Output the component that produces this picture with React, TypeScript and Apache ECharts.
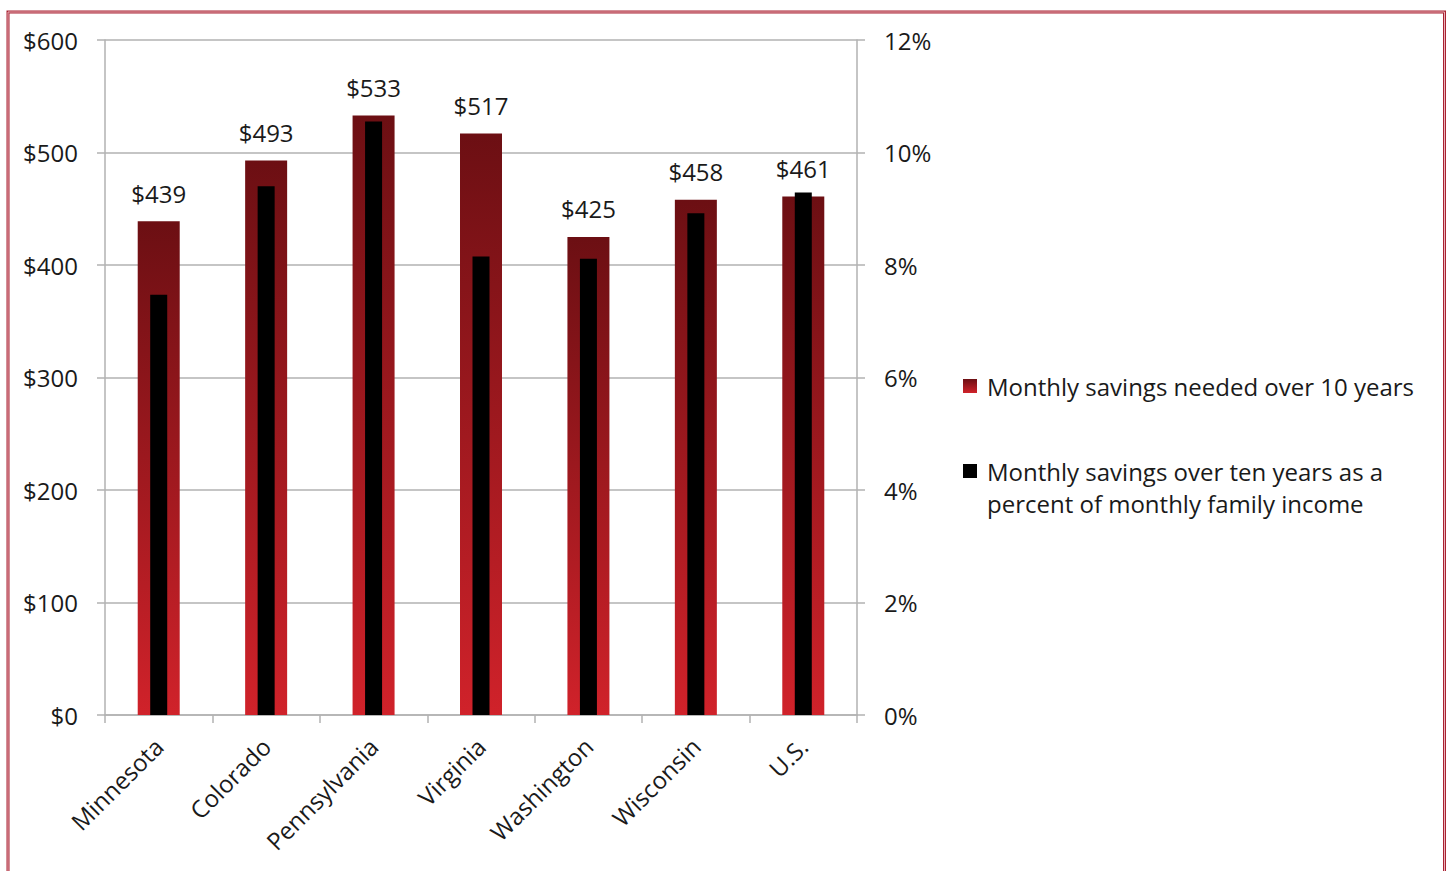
import React, { useEffect, useRef } from "react";
import * as echarts from "echarts";

const categories = ["Minnesota", "Colorado", "Pennsylvania", "Virginia", "Washington", "Wisconsin", "U.S."];
const savingsNeeded = [439, 493, 533, 517, 425, 458, 461];
const savingsPctIncome = [7.47, 9.4, 10.55, 8.15, 8.11, 8.92, 9.29];
const seriesNames = [
  "Monthly savings needed over 10 years",
  "Monthly savings over ten years as a percent of monthly family income",
];
const legendLines = [
  ["Monthly savings needed over 10 years"],
  ["Monthly savings over ten years as a", "percent of monthly family income"],
];

const FONT = "Open Sans";
const FS = 24;
const TEXT = "#1a1a1a";
const GRID = "#b2b2b2";

export default function App() {
  const ref = useRef<HTMLDivElement>(null);
  useEffect(() => {
    if (!ref.current) return;
    const chart = echarts.init(ref.current, null, { renderer: "svg" });
    const mkRed = () =>
      new echarts.graphic.LinearGradient(0, 0, 0, 1, [
        { offset: 0, color: "#6c0f13" },
        { offset: 1, color: "#d0222a" },
      ]);
    const legendColors = [mkRed(), "#000000"];
    const legendTops = [386, 471];
    const legendGraphics: any[] = [];
    legendLines.forEach((lines, i) => {
      legendGraphics.push({
        type: "rect",
        shape: { x: 963, y: legendTops[i] - 7, width: 14, height: 14 },
        style: { fill: legendColors[i] },
        silent: true,
      });
      lines.forEach((line, j) => {
        legendGraphics.push({
          type: "text",
          x: 987,
          y: legendTops[i] + j * 32,
          style: {
            text: line,
            fontFamily: FONT,
            fontSize: FS,
            fill: TEXT,
            verticalAlign: "middle",
            align: "left",
          },
          silent: true,
        });
      });
    });

    chart.setOption({
      animation: false,
      backgroundColor: "#ffffff",
      textStyle: { fontFamily: FONT },
      grid: { left: 105, right: 591, top: 40, bottom: 156, containLabel: false },
      legend: { show: false, data: seriesNames },
      xAxis: [
        {
          type: "category",
          data: categories,
          axisLine: { show: true, lineStyle: { color: GRID, width: 1.5 } },
          axisTick: { show: true, length: 8, lineStyle: { color: GRID, width: 1.5 } },
          axisLabel: {
            rotate: 45,
            interval: 0,
            margin: 27,
            fontFamily: FONT,
            fontSize: FS,
            color: TEXT,
          },
        },
        {
          type: "category",
          data: categories,
          show: false,
        },
      ],
      yAxis: [
        {
          type: "value",
          min: 0,
          max: 600,
          interval: 100,
          axisLine: { show: true, lineStyle: { color: GRID, width: 1.5 } },
          axisTick: { show: true, length: 8, lineStyle: { color: GRID, width: 1.5 } },
          splitLine: { show: true, lineStyle: { color: GRID, width: 1.5 } },
          axisLabel: {
            margin: 27,
            fontFamily: FONT,
            fontSize: FS,
            color: TEXT,
            formatter: (v: number) => "$" + v,
          },
        },
        {
          type: "value",
          min: 0,
          max: 12,
          interval: 2,
          position: "right",
          axisLine: { show: true, lineStyle: { color: GRID, width: 1.5 } },
          axisTick: { show: true, length: 8, lineStyle: { color: GRID, width: 1.5 } },
          splitLine: { show: false },
          axisLabel: {
            margin: 27,
            fontFamily: FONT,
            fontSize: FS,
            color: TEXT,
            formatter: (v: number) => v + "%",
          },
        },
      ],
      series: [
        {
          name: seriesNames[0],
          type: "bar",
          xAxisIndex: 0,
          yAxisIndex: 0,
          data: savingsNeeded,
          barWidth: 42,
          itemStyle: { color: mkRed() },
          label: {
            show: true,
            position: "top",
            distance: 16,
            fontFamily: FONT,
            fontSize: FS,
            color: TEXT,
            formatter: (p: any) => "$" + p.value,
          },
          z: 2,
        },
        {
          name: seriesNames[1],
          type: "bar",
          xAxisIndex: 1,
          yAxisIndex: 1,
          data: savingsPctIncome,
          barWidth: 17,
          itemStyle: { color: "#000000" },
          z: 3,
        },
      ],
      graphic: [
        {
          type: "rect",
          shape: { x: 8, y: 12, width: 1436.5, height: 900 },
          style: { fill: "none", stroke: "#a82232", lineWidth: 3 },
          silent: true,
        },
        {
          type: "rect",
          shape: { x: 8, y: 12, width: 1436.5, height: 900 },
          style: { fill: "none", stroke: "#eab4bb", lineWidth: 1 },
          silent: true,
        },
        ...legendGraphics,
      ],
    });
    return () => chart.dispose();
  }, []);
  return (
    <div
      ref={ref}
      style={{ position: "fixed", left: 0, top: 0, width: 1448, height: 871 }}
    />
  );
}
